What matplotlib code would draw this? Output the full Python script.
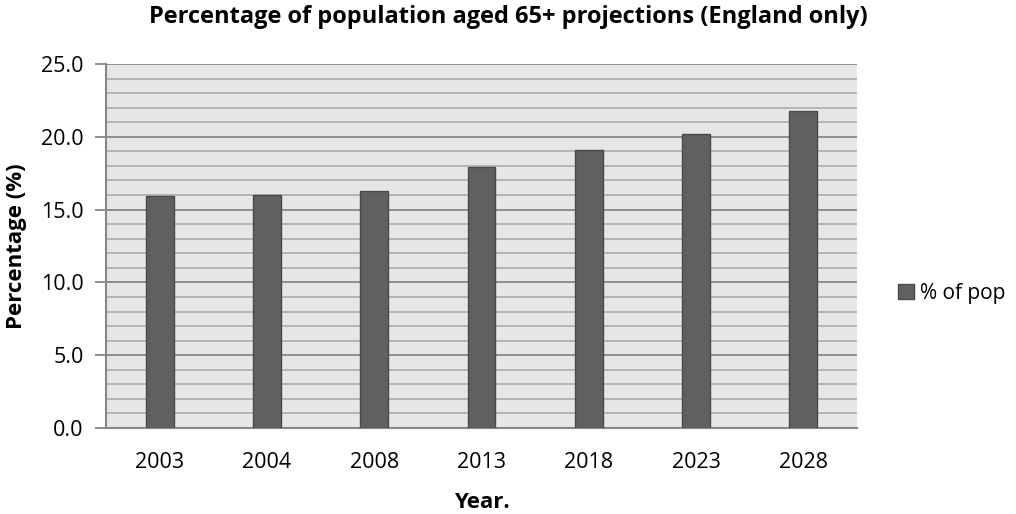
import matplotlib
matplotlib.use("Agg")
import matplotlib.pyplot as plt
from matplotlib.ticker import MultipleLocator
import numpy as np

# data
years = ['2003', '2004', '2008', '2013', '2018', '2023', '2028']
pct_pop = [15.9, 16.0, 16.3, 17.9, 19.1, 20.2, 21.8]

plt.rcParams['font.family'] = ['Open Sans', 'DejaVu Sans']

W, H = 1016, 514
fig = plt.figure(figsize=(W / 100, H / 100), dpi=100)
ax = fig.add_axes([106 / W, 1 - 428 / H, 751 / W, 364 / H])

x = np.arange(len(years))
ax.bar(x, pct_pop, width=0.26, color='#606060', edgecolor='#4a4a4a',
       linewidth=1, label='% of pop', zorder=3)

ax.set_facecolor('#e6e6e6')
ax.set_xlim(-0.5, len(years) - 0.5)
ax.set_ylim(0, 25)
ax.yaxis.set_major_locator(MultipleLocator(5))
ax.yaxis.set_minor_locator(MultipleLocator(1))
ax.grid(which='major', axis='y', color='#878787', linewidth=1.3, zorder=1)
ax.grid(which='minor', axis='y', color='#b0b0b0', linewidth=1.3, zorder=1)
ax.set_yticks(np.arange(0, 26, 5))
ax.set_yticklabels([f'{v:.1f}' for v in np.arange(0, 26, 5)])

ax.set_xticks(x)
ax.set_xticklabels(years)
ax.tick_params(axis='x', length=0, pad=17, labelsize=15.5)
ax.tick_params(axis='y', which='major', length=8, width=1.3, color='#878787',
               pad=8, labelsize=15.5)
ax.tick_params(axis='y', which='minor', length=0)

for side in ['top', 'right']:
    ax.spines[side].set_visible(False)
for side in ['left', 'bottom']:
    ax.spines[side].set_color('#878787')
    ax.spines[side].set_linewidth(1.5)

fig.text(17 / W, 1 - 246 / H, 'Percentage (%)', rotation=90, ha='center',
         va='center', fontweight='bold', fontsize=16)
fig.text(482 / W, 1 - 503 / H, 'Year.', ha='center', va='center',
         fontweight='bold', fontsize=16)
fig.suptitle('Percentage of population aged 65+ projections (England only)',
             fontweight='bold', fontsize=17, x=0.5, y=0.99)

ax.legend(loc='center left', bbox_to_anchor=(1.055, 0.37), frameon=False,
          fontsize=15, handlelength=0.75, handleheight=0.75, handletextpad=0.3,
          borderpad=0, borderaxespad=0)

fig.savefig('out.png', dpi=100)
